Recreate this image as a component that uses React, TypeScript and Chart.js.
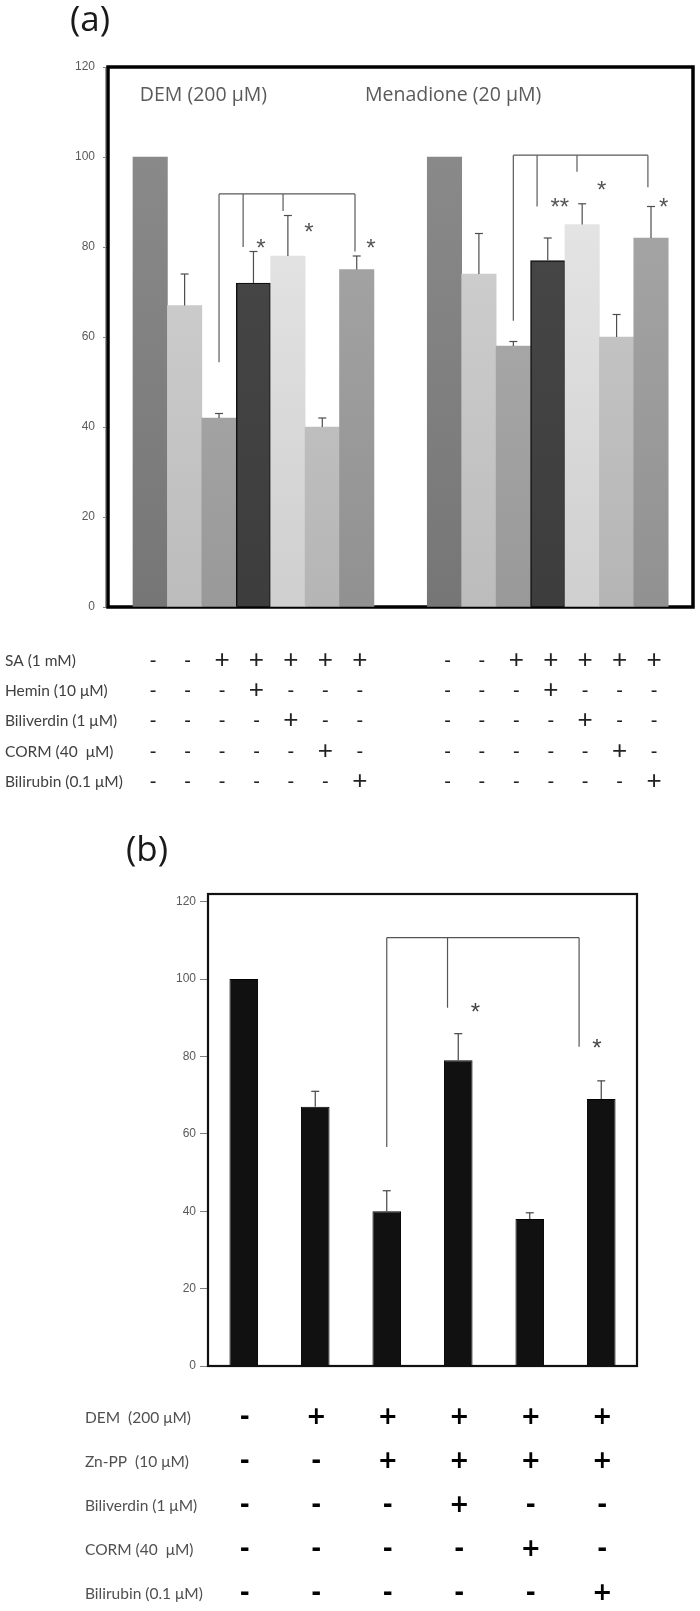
import React, { useEffect, useRef } from "react";
import { Chart, registerables } from "chart.js";

Chart.register(...registerables);

// ---------------- Panel (a) data ----------------
const groupLabelsA = ["DEM (200 μM)", "Menadione (20 μM)"];
const demValues = [100, 67, 42, 72, 78, 40, 75];
const demErrors = [0, 7, 1, 7, 9, 2, 3];
const menValues = [100, 74, 58, 77, 85, 60, 82];
const menErrors = [0, 9, 1, 5, 4.6, 5, 7];
// x position (in bar widths) of the first bar of each group
const groupStartA = [0, 8.55];
const groupLabelPosA = [
  [-0.3, 113.6],
  [6.24, 113.6],
];
const rowLabelsA = ["SA (1 mM)", "Hemin (10 μM)", "Biliverdin (1 μM)", "CORM (40  μM)", "Bilirubin (0.1 μM)"];
const rowSignsA = [
  ["-", "-", "+", "+", "+", "+", "+"],
  ["-", "-", "-", "+", "-", "-", "-"],
  ["-", "-", "-", "-", "+", "-", "-"],
  ["-", "-", "-", "-", "-", "+", "-"],
  ["-", "-", "-", "-", "-", "-", "+"],
];
// brackets: horizontal level and [x, lower end] of each drop
const bracketLevelsA = [91.8, 100.4];
const bracketDropsA = [
  [[2, 54.4], [2.7, 80], [3.86, 88], [5.95, 79]],
  [[10.55, 63.6], [11.24, 89], [12.4, 96.7], [14.46, 93.3]],
];
const starsA: [number, number, string][] = [
  [3.22, 80.9, "*"],
  [4.61, 84.4, "*"],
  [6.41, 80.9, "*"],
  [11.9, 90, "**"],
  [13.12, 93.6, "*"],
  [14.92, 90, "*"],
];

// ---------------- Panel (b) data ----------------
const categoriesB = ["Control", "DEM", "DEM+Zn-PP", "+Biliverdin", "+CORM", "+Bilirubin"];
const valuesB = [100, 67, 40, 79, 38, 69];
const errorsB = [0, 4, 5.3, 6.9, 1.6, 4.7];
const rowLabelsB = ["DEM  (200 μM)", "Zn-PP  (10 μM)", "Biliverdin (1 μM)", "CORM (40  μM)", "Bilirubin (0.1 μM)"];
const rowSignsB = [
  ["-", "+", "+", "+", "+", "+"],
  ["-", "-", "+", "+", "+", "+"],
  ["-", "-", "-", "+", "-", "-"],
  ["-", "-", "-", "-", "+", "-"],
  ["-", "-", "-", "-", "-", "+"],
];
const bracketLevelB = 110.7;
const bracketDropsB = [[2, 56.6], [2.85, 92.6], [4.69, 82.5]];
const starsB: [number, number, string][] = [
  [3.24, 92.6, "*"],
  [4.94, 83.5, "*"],
];

// ---------------- styles / layout ----------------
const topColorsA = ["#8d8d8d", "#d6d6d6", "#b3b3b3", "#4a4a4a", "#ececec", "#d0d0d0", "#acacac"];
const bottomColorsA = ["#767676", "#bcbcbc", "#999999", "#3d3d3d", "#cfcfcf", "#b5b5b5", "#919191"];
const rowYA = [661, 691, 721, 752, 782];
const rowYB = [618, 662, 706, 750, 794];

function drawText(ctx: CanvasRenderingContext2D, text: string, x: number, y: number, font: string, color: string, align: CanvasTextAlign = "left") {
  ctx.save();
  ctx.font = font;
  ctx.fillStyle = color;
  ctx.textAlign = align;
  ctx.textBaseline = "middle";
  ctx.fillText(text, x, y);
  ctx.restore();
}

function line(ctx: CanvasRenderingContext2D, x1: number, y1: number, x2: number, y2: number) {
  ctx.beginPath();
  ctx.moveTo(x1, y1);
  ctx.lineTo(x2, y2);
  ctx.stroke();
}

function makeConfigA(): any {
  const positions = [
    ...demValues.map((_, i) => groupStartA[0] + i),
    ...menValues.map((_, i) => groupStartA[1] + i),
  ];
  const values = [...demValues, ...menValues];
  const errors = [...demErrors, ...menErrors];

  const plugin = {
    id: "panelA",
    beforeDatasetsDraw(chart: any) {
      const { ctx, chartArea } = chart;
      ctx.save();
      ctx.strokeStyle = "#000";
      ctx.lineWidth = 3.5;
      ctx.strokeRect(chartArea.left, chartArea.top, chartArea.right - chartArea.left, chartArea.bottom - chartArea.top);
      ctx.strokeStyle = "#9a9a9a";
      ctx.lineWidth = 1;
      line(ctx, chartArea.left - 2.5, chartArea.top, chartArea.left - 2.5, chartArea.bottom);
      ctx.restore();
    },
    afterDatasetsDraw(chart: any) {
      const { ctx } = chart;
      const xs = chart.scales.x;
      const ys = chart.scales.y;
      const meta = chart.getDatasetMeta(0);
      ctx.save();
      // error bars
      ctx.strokeStyle = "#4d4d4d";
      ctx.lineWidth = 1.2;
      meta.data.forEach((bar: any, i: number) => {
        if (!errors[i]) return;
        const yt = ys.getPixelForValue(values[i] + errors[i]);
        line(ctx, bar.x, bar.y, bar.x, yt);
        line(ctx, bar.x - 4, yt, bar.x + 4, yt);
      });
      // brackets
      ctx.strokeStyle = "#5a5a5a";
      ctx.lineWidth = 1.2;
      bracketLevelsA.forEach((lvl, g) => {
        const drops = bracketDropsA[g];
        const yl = ys.getPixelForValue(lvl);
        line(ctx, xs.getPixelForValue(drops[0][0]), yl, xs.getPixelForValue(drops[drops.length - 1][0]), yl);
        drops.forEach(([x, lo]) => {
          const px = xs.getPixelForValue(x);
          line(ctx, px, yl, px, ys.getPixelForValue(lo));
        });
      });
      // asterisks
      starsA.forEach(([x, y, t]) => {
        drawText(ctx, t, xs.getPixelForValue(x), ys.getPixelForValue(y) + 6, "24px 'Liberation Sans'", "#555", "center");
      });
      // group labels
      groupLabelsA.forEach((lbl, g) => {
        const [x, y] = groupLabelPosA[g];
        drawText(ctx, lbl, xs.getPixelForValue(x), ys.getPixelForValue(y), "19.5px 'Open Sans'", "#5a5a5a");
      });
      ctx.restore();
    },
    afterDraw(chart: any) {
      const { ctx } = chart;
      const xs = chart.scales.x;
      drawText(ctx, "(a)", 70, 21, "35px 'Open Sans'", "#1a1a1a");
      rowLabelsA.forEach((lbl, r) => {
        drawText(ctx, lbl, 5, rowYA[r], "15.5px Lato", "#404040");
        [0, 1].forEach((g) => {
          rowSignsA[r].forEach((s, i) => {
            const px = xs.getPixelForValue(groupStartA[g] + i);
            drawText(ctx, s, px + 3, rowYA[r], s === "+" ? "26px 'Liberation Sans'" : "20px 'Liberation Sans'", "#222", "center");
          });
        });
      });
    },
  };

  return {
    type: "bar",
    data: {
      datasets: [
        {
          data: positions.map((x, i) => ({ x, y: values[i] })),
          backgroundColor: (c: any) => {
            const area = c.chart.chartArea;
            const k = c.dataIndex % 7;
            if (!area) return topColorsA[k];
            const gr = c.chart.ctx.createLinearGradient(0, area.top, 0, area.bottom);
            gr.addColorStop(0, topColorsA[k]);
            gr.addColorStop(1, bottomColorsA[k]);
            return gr;
          },
          borderColor: "#111",
          borderWidth: (c: any) => (c.dataIndex % 7 === 3 ? 1.5 : 0),
          barPercentage: 1,
          categoryPercentage: 1,
        },
      ],
    },
    options: {
      responsive: false,
      animation: false,
      events: [],
      layout: { padding: { top: 67, bottom: 193, left: 68, right: 7 } },
      plugins: { legend: { display: false }, tooltip: { enabled: false } },
      scales: {
        x: { type: "linear", min: -1.226, max: 15.77, offset: false, display: false },
        y: {
          min: 0,
          max: 120,
          afterFit(s: any) {
            s.width = 40;
          },
          ticks: { stepSize: 20, color: "#5a5a5a", padding: 8, font: { size: 12, family: "'Liberation Sans'" } },
          grid: { drawOnChartArea: false, drawTicks: true, tickLength: 5, color: "#808080" },
          border: { display: false },
        },
      },
    },
    plugins: [plugin],
  };
}

function makeConfigB(): any {
  const plugin = {
    id: "panelB",
    beforeDatasetsDraw(chart: any) {
      const { ctx, chartArea } = chart;
      ctx.save();
      ctx.strokeStyle = "#111";
      ctx.lineWidth = 2.2;
      ctx.strokeRect(chartArea.left, chartArea.top, chartArea.right - chartArea.left, chartArea.bottom - chartArea.top);
      ctx.restore();
    },
    afterDatasetsDraw(chart: any) {
      const { ctx } = chart;
      const xs = chart.scales.x;
      const ys = chart.scales.y;
      const meta = chart.getDatasetMeta(0);
      ctx.save();
      ctx.strokeStyle = "#444";
      ctx.lineWidth = 1.2;
      meta.data.forEach((bar: any, i: number) => {
        if (!errorsB[i]) return;
        const yt = ys.getPixelForValue(valuesB[i] + errorsB[i]);
        line(ctx, bar.x, bar.y, bar.x, yt);
        line(ctx, bar.x - 4, yt, bar.x + 4, yt);
      });
      ctx.strokeStyle = "#555";
      const yl = ys.getPixelForValue(bracketLevelB);
      line(ctx, xs.getPixelForValue(bracketDropsB[0][0]), yl, xs.getPixelForValue(bracketDropsB[bracketDropsB.length - 1][0]), yl);
      bracketDropsB.forEach(([x, lo]) => {
        const px = xs.getPixelForValue(x);
        line(ctx, px, yl, px, ys.getPixelForValue(lo));
      });
      starsB.forEach(([x, y, t]) => {
        drawText(ctx, t, xs.getPixelForValue(x), ys.getPixelForValue(y) + 6, "24px 'Liberation Sans'", "#444", "center");
      });
      ctx.restore();
    },
    afterDraw(chart: any) {
      const { ctx } = chart;
      const xs = chart.scales.x;
      drawText(ctx, "(b)", 126, 51, "35px 'Open Sans'", "#1a1a1a");
      rowLabelsB.forEach((lbl, r) => {
        drawText(ctx, lbl, 85, rowYB[r], "15.5px Lato", "#505050");
        rowSignsB[r].forEach((s, i) => {
          const px = xs.getPixelForValue(i);
          drawText(ctx, s, px + 1, rowYB[r], "bold 24px 'DejaVu Sans'", "#000", "center");
        });
      });
    },
  };

  return {
    type: "bar",
    data: {
      labels: categoriesB,
      datasets: [
        {
          data: valuesB,
          backgroundColor: "#111111",
          borderColor: "#000",
          borderWidth: 1,
          barPercentage: 0.4,
          categoryPercentage: 1,
        },
      ],
    },
    options: {
      responsive: false,
      animation: false,
      events: [],
      layout: { padding: { top: 94, bottom: 245, left: 163, right: 63 } },
      plugins: { legend: { display: false }, tooltip: { enabled: false } },
      scales: {
        x: { type: "category", display: false },
        y: {
          min: 0,
          max: 122,
          afterFit(s: any) {
            s.width = 45;
          },
          ticks: { stepSize: 20, includeBounds: false, color: "#5a5a5a", padding: 4, font: { size: 12, family: "'Liberation Sans'" } },
          grid: { drawOnChartArea: false, drawTicks: true, tickLength: 8, color: "#808080" },
          border: { display: false },
        },
      },
    },
    plugins: [plugin],
  };
}

export default function App() {
  const refA = useRef<HTMLCanvasElement>(null);
  const refB = useRef<HTMLCanvasElement>(null);
  useEffect(() => {
    const a = new Chart(refA.current!, makeConfigA());
    const b = new Chart(refB.current!, makeConfigB());
    return () => {
      a.destroy();
      b.destroy();
    };
  }, []);
  return (
    <div style={{ position: "absolute", left: 0, top: 0, width: 700, height: 1611, background: "#fff" }}>
      <canvas ref={refA} width={700} height={800} style={{ position: "absolute", left: 0, top: 0 }} />
      <canvas ref={refB} width={700} height={811} style={{ position: "absolute", left: 0, top: 800 }} />
    </div>
  );
}
